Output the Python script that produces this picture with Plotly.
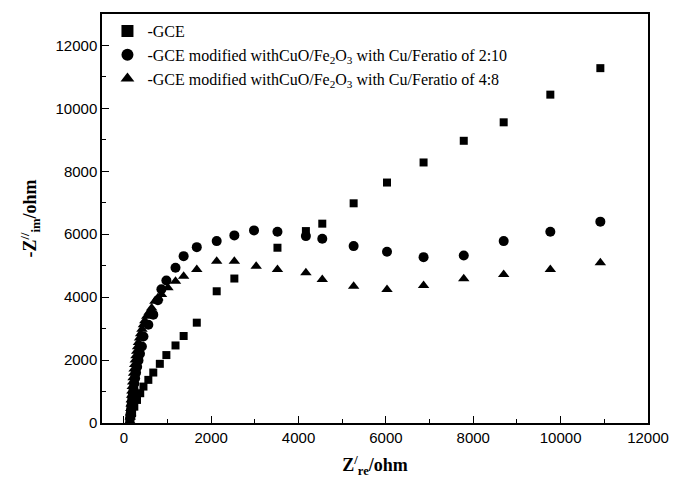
import plotly.graph_objects as go

# Series: bare GCE
gce_x = [125, 150, 189, 240, 301, 375, 449, 561, 674, 824, 974, 1183, 1369, 1670, 2126, 2530,
         3517, 4168, 4543, 5261, 6025, 6862, 7782, 8696, 9764, 10909]
gce_y = [50, 150, 309, 520, 733, 947, 1158, 1371, 1604, 1881, 2159, 2465, 2765, 3189, 4187, 4592,
         5571, 6100, 6336, 6983, 7643, 8281, 8970, 9557, 10437, 11279]

# Series: CuO/Fe2O3 ratio 2:10
r210_x = [145, 152, 160, 170, 180, 192, 205, 220, 238, 258, 280, 305, 335, 370, 413, 449, 561,
          674, 780, 860, 974, 1183, 1369, 1670, 2126, 2530, 2980, 3517, 4168, 4543,
          5261, 6025, 6862, 7782, 8696, 9764, 10909]
r210_y = [170, 280, 400, 530, 660, 800, 940, 1090, 1250, 1420, 1600, 1790, 1990, 2200, 2433, 2752, 3125,
          3444, 3900, 4250, 4528, 4933, 5303, 5590, 5781, 5963, 6122, 6081, 5941, 5858,
          5622, 5443, 5272, 5325, 5782, 6081, 6400]

# Series: CuO/Fe2O3 ratio 4:8
r48_x = [140, 148, 155, 160, 166, 172, 178, 185, 193, 202, 212, 223, 235, 248, 262, 278, 295, 315,
         335, 360, 385, 415, 449, 480, 525, 580, 637, 711, 780, 862, 1010, 1183, 1369, 1670,
         2126, 2530, 3030, 3517, 4168, 4543, 5261, 6025, 6862, 7782, 8696, 9764, 10909]
r48_y = [60, 190, 320, 460, 600, 740, 880, 1020, 1160, 1300, 1440, 1580, 1720, 1860, 2000, 2140, 2280, 2420,
         2560, 2700, 2840, 2980, 3125, 3250, 3390, 3520, 3657, 3868, 3980, 4082, 4295, 4506, 4665, 4879,
         5144, 5144, 4984, 4879, 4773, 4560, 4346, 4241, 4368, 4582, 4719, 4879, 5092]

names = ["-GCE",
         "-GCE modified withCuO/Fe<sub>2</sub>O<sub>3</sub> with Cu/Feratio of 2:10",
         "-GCE modified withCuO/Fe<sub>2</sub>O<sub>3</sub> with Cu/Feratio of 4:8"]

x_ticks = [0, 2000, 4000, 6000, 8000, 10000, 12000]
y_ticks = [0, 2000, 4000, 6000, 8000, 10000, 12000]
x_labels = [str(v) for v in x_ticks]
y_labels = [str(v) for v in y_ticks]

fig = go.Figure()
fig.add_trace(go.Scatter(x=gce_x, y=gce_y, mode="markers", name=names[0],
                         marker=dict(symbol="square", size=8, color="black")))
fig.add_trace(go.Scatter(x=r210_x, y=r210_y, mode="markers", name=names[1],
                         marker=dict(symbol="circle", size=10, color="black")))
fig.add_trace(go.Scatter(x=r48_x, y=r48_y, mode="markers", name=names[2],
                         marker=dict(symbol="triangle-up", size=10, color="black")))

axis_common = dict(showline=True, linecolor="black", linewidth=1.5, mirror=True,
                   ticks="inside", ticklen=7, tickwidth=1.2, tickcolor="black",
                   showgrid=False, zeroline=False,
                   tickfont=dict(family="Liberation Sans, Arial", size=15, color="black"),
                   minor=dict(dtick=1000, ticks="inside", ticklen=4, tickwidth=1.2, tickcolor="black"))

fig.update_layout(
    width=681, height=486,
    margin=dict(l=102, r=23, t=14, b=63),
    plot_bgcolor="white", paper_bgcolor="white",
    showlegend=True,
    legend=dict(x=0.01, y=1.0, xanchor="left", yanchor="top",
                bgcolor="rgba(0,0,0,0)", borderwidth=0,
                font=dict(family="Liberation Serif, Times New Roman", size=16, color="black"),
                itemsizing="constant", tracegroupgap=0),
    xaxis=dict(range=[-500, 12000], tickmode="array", tickvals=x_ticks, ticktext=x_labels,
               title=dict(text="<b>Z<sup>/</sup><sub>re</sub>/ohm</b>", standoff=14,
                          font=dict(family="Liberation Serif, Times New Roman", size=18, color="black")),
               **axis_common),
    yaxis=dict(range=[0, 13000], tickmode="array", tickvals=y_ticks, ticktext=y_labels,
               title=dict(text="<b>-Z<sup>//</sup><sub>im</sub>/ohm</b>", standoff=14,
                          font=dict(family="Liberation Serif, Times New Roman", size=18, color="black")),
               **axis_common),
)

fig.write_html("out.html")
